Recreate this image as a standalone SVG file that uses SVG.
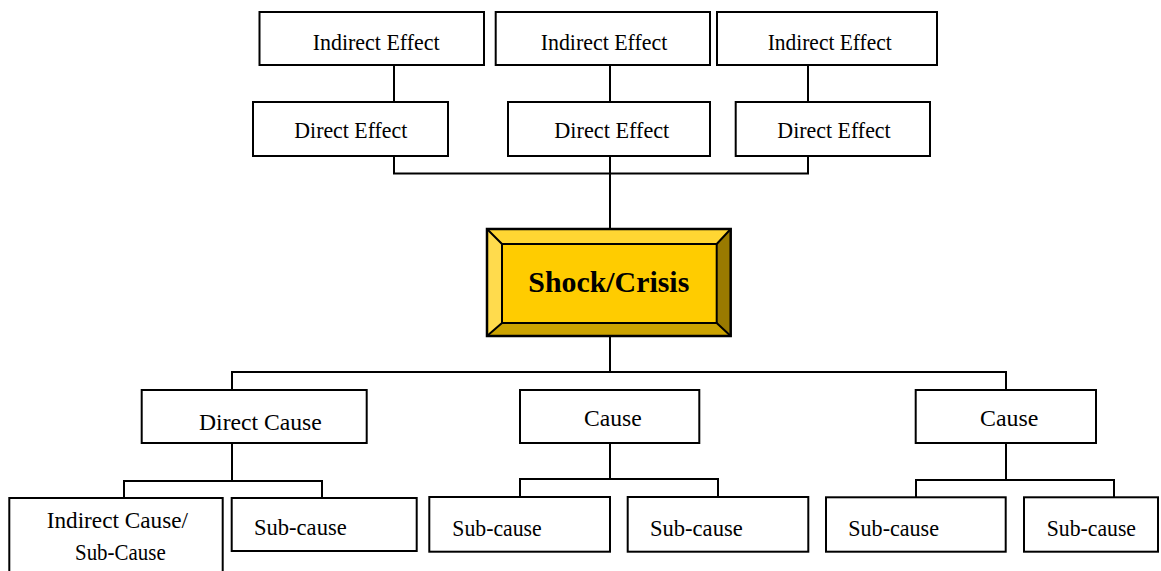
<svg xmlns="http://www.w3.org/2000/svg" width="1161" height="571" viewBox="0 0 1161 571">
<style>
.box{fill:#fff;stroke:#000;stroke-width:2}
.t{font-family:"Liberation Serif","Times New Roman",serif;font-size:24px;fill:#000}
.b{font-family:"Liberation Serif","Times New Roman",serif;font-size:30px;font-weight:bold;fill:#000}
.ln{fill:none;stroke:#000;stroke-width:2}
</style>
<rect width="1161" height="571" fill="#fff"/>
<g id="connectors">
<path class="ln" d="M394 65V102M610 65V102M808 65V102"/>
<path class="ln" d="M394 156V173.5H808V156M610 156V229"/>
<path class="ln" d="M610 336V372M232 390V372H1006V390"/>
<path class="ln" d="M232 443V481M124 498V481H322V498"/>
<path class="ln" d="M610 443V479M520 497V479H718V497"/>
<path class="ln" d="M1006 443V480M916 497V480H1114V497"/>
</g>
<g id="ie1"><rect class="box" x="259.5" y="12" width="224.5" height="53"/><text class="t" x="312.7" y="50" textLength="127" lengthAdjust="spacingAndGlyphs">Indirect Effect</text></g>
<g id="ie2"><rect class="box" x="495.7" y="12" width="214.3" height="53"/><text class="t" x="540.7" y="50" textLength="126.6" lengthAdjust="spacingAndGlyphs">Indirect Effect</text></g>
<g id="ie3"><rect class="box" x="717" y="12" width="220" height="53"/><text class="t" x="767.7" y="50" textLength="124" lengthAdjust="spacingAndGlyphs">Indirect Effect</text></g>
<g id="de1"><rect class="box" x="253" y="102" width="195" height="54"/><text class="t" x="294.3" y="138.3" textLength="113" lengthAdjust="spacingAndGlyphs">Direct Effect</text></g>
<g id="de2"><rect class="box" x="508" y="102" width="202" height="54"/><text class="t" x="554.3" y="138.3" textLength="115" lengthAdjust="spacingAndGlyphs">Direct Effect</text></g>
<g id="de3"><rect class="box" x="735.7" y="102" width="194.3" height="54"/><text class="t" x="777.3" y="138.3" textLength="113.4" lengthAdjust="spacingAndGlyphs">Direct Effect</text></g>
<g id="shock">
<rect x="487" y="229" width="243.7" height="107" fill="#FFCC00"/>
<polygon points="487,229 730.7,229 716.7,244 502,244" fill="#FFD633"/>
<polygon points="487,229 502,244 502,323 487,336" fill="#FFDB4D"/>
<polygon points="730.7,229 730.7,336 716.7,323 716.7,244" fill="#997A00"/>
<polygon points="487,336 502,323 716.7,323 730.7,336" fill="#CCA300"/>
<path class="ln" d="M487 229L502 244M730.7 229L716.7 244M487 336L502 323M730.7 336L716.7 323"/>
<rect x="487" y="229" width="243.7" height="107" fill="none" stroke="#000" stroke-width="2.5"/>
<rect x="502" y="244" width="214.7" height="79" fill="none" stroke="#000" stroke-width="2"/>
<text class="b" x="528.3" y="291.7" textLength="161" lengthAdjust="spacingAndGlyphs">Shock/Crisis</text>
</g>
<g id="dc"><rect class="box" x="141.7" y="390" width="225" height="53"/><text class="t" x="199" y="430" textLength="122.7" lengthAdjust="spacingAndGlyphs">Direct Cause</text></g>
<g id="c2"><rect class="box" x="520" y="390" width="179.3" height="53"/><text class="t" x="584" y="425.7" textLength="57.7" lengthAdjust="spacingAndGlyphs">Cause</text></g>
<g id="c3"><rect class="box" x="915.7" y="390" width="180.3" height="53"/><text class="t" x="980" y="425.7" textLength="58.3" lengthAdjust="spacingAndGlyphs">Cause</text></g>
<g id="ic"><rect class="box" x="9.3" y="498" width="213.4" height="85"/><text class="t" x="46.7" y="528" textLength="141.3" lengthAdjust="spacingAndGlyphs">Indirect Cause/</text><text class="t" x="75" y="560" textLength="90.7" lengthAdjust="spacingAndGlyphs">Sub-Cause</text></g>
<g id="s1"><rect class="box" x="231.7" y="498" width="185" height="53"/><text class="t" x="254" y="535" textLength="92.7" lengthAdjust="spacingAndGlyphs">Sub-cause</text></g>
<g id="s2"><rect class="box" x="429.3" y="497" width="180.7" height="54.7"/><text class="t" x="452.3" y="535.7" textLength="89.4" lengthAdjust="spacingAndGlyphs">Sub-cause</text></g>
<g id="s3"><rect class="box" x="627.7" y="497" width="180.6" height="54.7"/><text class="t" x="650" y="535.7" textLength="92.7" lengthAdjust="spacingAndGlyphs">Sub-cause</text></g>
<g id="s4"><rect class="box" x="826" y="497.3" width="179.7" height="54.4"/><text class="t" x="848.3" y="535.7" textLength="90.7" lengthAdjust="spacingAndGlyphs">Sub-cause</text></g>
<g id="s5"><rect class="box" x="1024" y="497.3" width="134" height="54.4"/><text class="t" x="1046.7" y="535.7" textLength="89.3" lengthAdjust="spacingAndGlyphs">Sub-cause</text></g>
</svg>
